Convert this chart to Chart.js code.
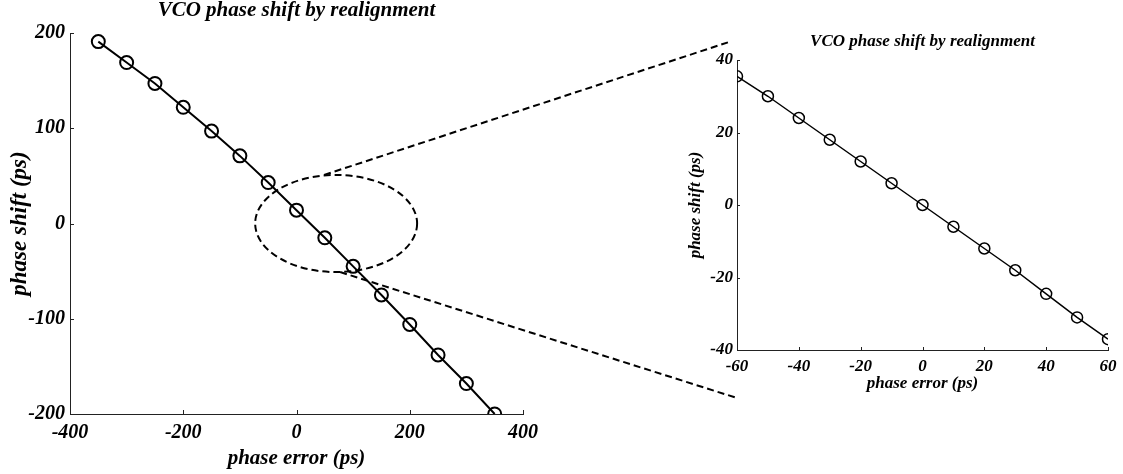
<!DOCTYPE html>
<html>
<head>
<meta charset="utf-8">
<script src="https://cdn.jsdelivr.net/npm/chart.js@4/dist/chart.umd.min.js"></script>
<style>
  html, body { margin: 0; padding: 0; background: #fff; }
  #wrap { position: relative; width: 1123px; height: 474px; overflow: hidden; }
  canvas { position: absolute; top: 0; }
</style>
</head>
<body>
<div id="wrap">
  <canvas id="mainChart" width="1123" height="474" style="left:0"></canvas>
  <canvas id="zoomChart" width="443" height="474" style="left:680px"></canvas>
</div>
<script>
// wide range run
const mainError = [-350, -300, -250, -200, -150, -100, -50, 0, 50, 100, 150, 200, 250, 300, 350];
const mainShift = [191, 169, 147, 122, 97, 71, 43, 14, -15, -45, -75, -106, -138, -168, -200];
const mainXTicks = [-400, -200, 0, 200, 400];
const mainYTicks = [-200, -100, 0, 100, 200];

// zoomed run
const zoomError = [-60, -50, -40, -30, -20, -10, 0, 10, 20, 30, 40, 50, 60];
const zoomShift = [35.5, 30, 24, 18, 12, 6, 0, -6, -12, -18, -24.5, -31, -37];
const zoomXTicks = [-60, -40, -20, 0, 20, 40, 60];
const zoomYTicks = [-40, -20, 0, 20, 40];

const titleText = "VCO phase shift by realignment";
const xLabel = "phase error (ps)";
const yLabel = "phase shift (ps)";
const serif = '"Liberation Serif", "Times New Roman", serif';

function toPoints(xs, ys) {
    return xs.map((x, i) => ({ x: x, y: ys[i] }));
}

function font(size) {
    return { family: serif, size: size, style: "italic", weight: "bold" };
}

// titles and inward tick marks
const decor = {
    id: "decor",
    afterDraw(chart, args, opts) {
        const ctx = chart.ctx;
        const area = chart.chartArea;
        const xs = chart.scales.x;
        const ys = chart.scales.y;
        ctx.save();
        ctx.strokeStyle = "#222";
        ctx.lineWidth = 1;
        ctx.beginPath();
        xs.ticks.forEach((t) => {
            const px = Math.round(xs.getPixelForValue(t.value)) + 0.5;
            ctx.moveTo(px, area.bottom);
            ctx.lineTo(px, area.bottom - opts.tick);
        });
        ys.ticks.forEach((t) => {
            const py = Math.round(ys.getPixelForValue(t.value)) + 0.5;
            ctx.moveTo(area.left, py);
            ctx.lineTo(area.left + opts.tick, py);
        });
        ctx.stroke();
        ctx.fillStyle = "#000";
        ctx.font = "italic bold " + opts.titleSize + "px " + serif;
        ctx.textAlign = "center";
        ctx.textBaseline = "middle";
        ctx.fillText(titleText, (area.left + area.right) / 2, opts.titleY);
        ctx.restore();
    },
};

// dashed ellipse and the two lines leading to the zoomed chart
const zoomMarker = {
    id: "zoomMarker",
    afterDatasetsDraw(chart) {
        const ctx = chart.ctx;
        const xs = chart.scales.x;
        const ys = chart.scales.y;
        const cx = xs.getPixelForValue(70);
        const cy = ys.getPixelForValue(0);
        const rx = xs.getPixelForValue(70 + 143) - cx;
        const ry = ys.getPixelForValue(0) - ys.getPixelForValue(51);
        ctx.save();
        ctx.strokeStyle = "#000";
        ctx.lineWidth = 2;
        ctx.setLineDash([7, 4]);
        ctx.beginPath();
        ctx.ellipse(cx, cy, rx, ry, 0, 0, Math.PI * 2);
        ctx.stroke();
        ctx.beginPath();
        ctx.moveTo(cx - 12, cy - ry);
        ctx.lineTo(729, 42);
        ctx.moveTo(cx + 4, cy + ry);
        ctx.lineTo(737, 398);
        ctx.stroke();
        ctx.restore();
    },
};

function axis(min, max, ticks, tickSize, tickPad, label, labelSize, labelPad, fitFn) {
    return {
        type: "linear",
        min: min,
        max: max,
        afterBuildTicks: (s) => { s.ticks = ticks.map((v) => ({ value: v })); },
        ticks: { font: font(tickSize), color: "#000", padding: tickPad, autoSkip: false, maxRotation: 0 },
        grid: { drawOnChartArea: false, drawTicks: false },
        border: { color: "#222", width: 1 },
        title: { display: true, text: label, color: "#000", font: font(labelSize), padding: labelPad },
        afterFit: fitFn,
    };
}

new Chart(document.getElementById("mainChart"), {
    type: "scatter",
    data: {
        datasets: [{
            data: toPoints(mainError, mainShift),
            showLine: true,
            borderColor: "#000",
            borderWidth: 2,
            pointStyle: "circle",
            pointRadius: 6.5,
            pointBorderWidth: 2,
            pointBorderColor: "#000",
            pointBackgroundColor: "rgba(0,0,0,0)",
        }],
    },
    options: {
        responsive: false,
        animation: false,
        layout: { padding: { left: 0, right: 600, top: 33, bottom: 0 } },
        plugins: {
            legend: { display: false },
            tooltip: { enabled: false },
            decor: { tick: 4, titleSize: 21, titleY: 11 },
        },
        scales: {
            x: axis(-400, 400, mainXTicks, 20, 7, xLabel, 21, { top: 0, bottom: 3 }, (s) => { s.height = 60; }),
            y: axis(-200, 200, mainYTicks, 20, 5, yLabel, 23, { top: 6, bottom: 0 }, (s) => { s.width = 70; }),
        },
    },
    plugins: [decor, zoomMarker],
});

new Chart(document.getElementById("zoomChart"), {
    type: "scatter",
    data: {
        datasets: [{
            data: toPoints(zoomError, zoomShift),
            showLine: true,
            borderColor: "#000",
            borderWidth: 1.5,
            pointStyle: "circle",
            pointRadius: 5.5,
            pointBorderWidth: 1.5,
            pointBorderColor: "#000",
            pointBackgroundColor: "rgba(0,0,0,0)",
        }],
    },
    options: {
        responsive: false,
        animation: false,
        layout: { padding: { left: 0, right: 15, top: 60, bottom: 77 } },
        plugins: {
            legend: { display: false },
            tooltip: { enabled: false },
            decor: { tick: 3, titleSize: 17, titleY: 42 },
        },
        scales: {
            x: axis(-60, 60, zoomXTicks, 17, 6, xLabel, 17, { top: 0, bottom: 3 }, (s) => { s.height = 47; }),
            y: axis(-40, 40, zoomYTicks, 17, 4, yLabel, 17, { top: 5, bottom: 0 }, (s) => { s.width = 57; }),
        },
    },
    plugins: [decor],
});
</script>
</body>
</html>
